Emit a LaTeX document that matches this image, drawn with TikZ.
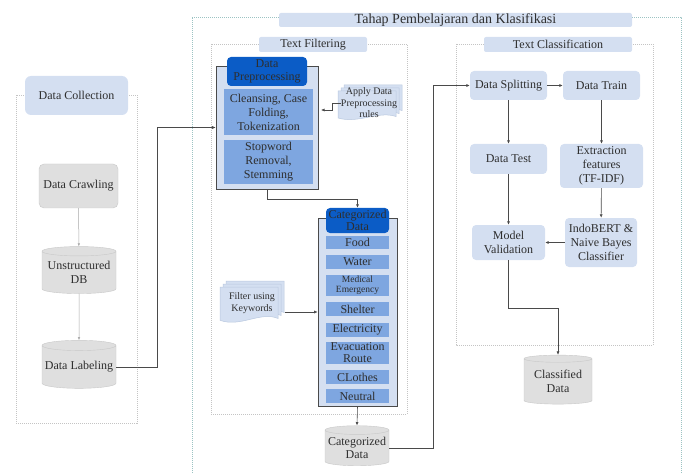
\documentclass[tikz,border=0pt]{standalone}
\usepackage{fontspec}
\setmainfont{Liberation Serif}
\usetikzlibrary{shapes.geometric,arrows.meta,positioning}
\definecolor{lblue}{HTML}{D4DFF1}
\definecolor{dblue}{HTML}{0B5CC6}
\definecolor{mblue}{HTML}{7EA6E0}
\definecolor{cgray}{HTML}{DFDFDF}
\definecolor{cedge}{HTML}{C8C8C8}
\definecolor{teal}{HTML}{9CC3C3}
\definecolor{dotgray}{HTML}{C4C4C4}
\definecolor{ink}{HTML}{2E2E2E}
\definecolor{linec}{HTML}{4A4A4A}
\definecolor{softline}{HTML}{A8A8A8}
\definecolor{docedge}{HTML}{B9C8DF}
\newcommand\fsz[2]{\fontsize{#1}{#2}\selectfont}
% three stacked sheets: x, y (top left of front sheet), width, height
\newcommand\stackdoc[4]{%
  \foreach \o in {6,3,0}{
    \draw[docsheet] ({#1+\o},{#2-\o}) -- ({#1+\o+#3},{#2-\o}) -- ({#1+\o+#3},{#2-\o+0.85*#4})
      .. controls ({#1+\o+0.7*#3},{#2-\o+0.65*#4}) and ({#1+\o+0.35*#3},{#2-\o+1.1*#4}) .. ({#1+\o},{#2-\o+0.9*#4}) -- cycle;
  }}
\tikzset{
  outerpanel/.style={draw=teal, line width=0.6pt, dash pattern=on 1pt off 1pt},
  panel/.style={draw=dotgray, line width=0.6pt, dash pattern=on 1pt off 1pt},
  tagbar/.style={fill=lblue, rounded corners=2pt, inner sep=0pt, text=ink, font=\fsz{12}{13}},
  bluebox/.style={fill=lblue, rounded corners=4pt, inner sep=0pt, align=center, text=ink, font=\fsz{12}{14}},
  graybox/.style={fill=cgray, draw=cedge, line width=0.4pt, rounded corners=5pt, inner sep=0pt, align=center, text=ink, font=\fsz{12}{14}},
  holder/.style={fill=lblue, draw=linec, line width=0.6pt, inner sep=0pt},
  hdr/.style={fill=dblue, rounded corners=4pt, inner sep=0pt, align=center, text=ink, font=\fsz{12}{13}},
  item/.style={fill=mblue, inner sep=0pt, align=center, text=ink, font=\fsz{12}{14}},
  cyl/.style={cylinder, shape border rotate=90, aspect=0.15, fill=cgray, draw=cedge, line width=0.4pt,
    inner sep=0pt, align=center, text=ink, font=\fsz{12}{14}},
  docsheet/.style={fill=lblue, draw=docedge, line width=0.5pt},
  doctext/.style={inner sep=0pt, align=center, text=ink, font=\fsz{10}{11.5}},
  link/.style={draw=linec, line width=0.6pt, -{Latex[length=3.5pt,width=3pt]}},
  softlink/.style={draw=softline, line width=0.5pt, -{Latex[length=3pt,width=2.5pt]}}
}
\begin{document}
\begin{tikzpicture}[x=1pt,y=-1pt]
  \useasboundingbox (0,0) rectangle (685,473);
  % panels
  \draw[outerpanel] (192,473) -- (192,17) -- (681,17) -- (681,473);
  \draw[panel] (16,95) rectangle (137,423);
  \draw[panel] (211,44) rectangle (407,414);
  \draw[panel] (456,44) rectangle (653,345);
  \node[tagbar, minimum width=353, minimum height=14, font=\fsz{14}{16}] (title) at (455.5,20) {Tahap Pembelajaran dan Klasifikasi};
  \node[tagbar, minimum width=108, minimum height=15] (filtertag) at (313,44.5) {Text Filtering};
  \node[tagbar, minimum width=148, minimum height=15] (classtag) at (558,44.5) {Text Classification};
  \node[bluebox, rounded corners=6pt, minimum width=103, minimum height=39] (collect) at (76.5,95.5) {Data Collection};

  % data collection
  \node[graybox, minimum width=79, minimum height=44] (crawl) at (78.5,186) {Data Crawling};
  \node[cyl, minimum width=74, minimum height=47] (rawdb) at (79,272.5) {Unstructured\\DB};
  \node[cyl, minimum width=74, minimum height=48] (labeling) at (79,367) {Data Labeling};
  \draw[softlink] (crawl) -- (rawdb);
  \draw[softlink] (rawdb) -- (labeling);

  % text filtering
  \node[holder, minimum width=102, minimum height=123] (prepbox) at (267,127.5) {};
  \node[hdr, minimum width=80, minimum height=29] (prephead) at (267,71.5) {Data\\Preprocessing};
  \node[item, minimum width=89, minimum height=46] (clean) at (268.5,112) {Cleansing, Case\\Folding,\\Tokenization};
  \node[item, minimum width=89, minimum height=44] (stem) at (268.5,162) {Stopword\\Removal,\\Stemming};
  \stackdoc{338}{91}{58}{30}
  \node[doctext] (rules) at (369,103) {Apply Data\\Preprocessing\\rules};
  \coordinate (rulesin) at (321,110);
  \draw[link] (rules.west) -- ++(-8,0) |- (rulesin);

  \node[holder, minimum width=79, minimum height=188] (catbox) at (357.5,312) {};
  \node[hdr, minimum width=63, minimum height=25, font=\fsz{12}{11.5}] (cathead) at (357.5,220.5) {Categorized\\Data};
  \node[item, minimum width=63, minimum height=13] (food) at (357.5,242.5) {Food};
  \node[item, minimum width=63, minimum height=14] (water) at (357.5,262) {Water};
  \node[item, minimum width=63, minimum height=21, font=\fsz{9.5}{10}] (medic) at (357.5,285.5) {Medical\\Emergency};
  \node[item, minimum width=63, minimum height=14] (shelter) at (357.5,309) {Shelter};
  \node[item, minimum width=63, minimum height=14] (power) at (357.5,330) {Electricity};
  \node[item, minimum width=63, minimum height=22, font=\fsz{12}{12}] (evac) at (357.5,353) {Evacuation\\Route};
  \node[item, minimum width=63, minimum height=14] (clothes) at (357.5,377) {CLothes};
  \node[item, minimum width=63, minimum height=14] (neutral) at (357.5,396) {Neutral};
  \stackdoc{220}{287}{58}{37}
  \node[doctext, minimum width=65, minimum height=45] (keywords) at (252,303) {Filter using\\Keywords};
  \draw[link] (keywords.east |- catbox.west) -- (catbox.west);

  \node[cyl, minimum width=64, minimum height=40, font=\fsz{12}{13.5}] (catdb) at (357,448) {Categorized\\Data};
  \draw[link] (labeling.east) -- ++(41,0) |- (prepbox.west);
  \draw[link] (prepbox.south) -- ++(0,10) -| (cathead.north);
  \draw[link] (catbox.south) -- (catdb.north);

  % text classification
  \node[bluebox, minimum width=77, minimum height=29] (split) at (508.5,85.5) {Data Splitting};
  \node[bluebox, minimum width=77, minimum height=29] (train) at (601.5,85.5) {Data Train};
  \node[bluebox, minimum width=77, minimum height=30] (test) at (508.5,159) {Data Test};
  \node[bluebox, minimum width=83, minimum height=44] (tfidf) at (601.5,166) {Extraction\\features\\(TF-IDF)};
  \node[bluebox, minimum width=73, minimum height=35] (valid) at (508.5,242.5) {Model\\Validation};
  \node[bluebox, minimum width=72, minimum height=49] (bert) at (601,242.5) {IndoBERT \&\\Naive Bayes\\Classifier};
  \node[cyl, minimum width=68, minimum height=49] (classdb) at (558,381.5) {Classified\\Data};
  \draw[link] (catdb.east) -- ++(44,0) |- (split.west);
  \draw[link] (split) -- (train);
  \draw[link] (split) -- (test);
  \draw[link] (train) -- (tfidf);
  \draw[link] (tfidf) -- (bert);
  \draw[link] (test) -- (valid);
  \draw[link] (bert) -- (valid);
  \draw[link] (valid.south) -- ++(0,48) -| (classdb.north);
\end{tikzpicture}
\end{document}
